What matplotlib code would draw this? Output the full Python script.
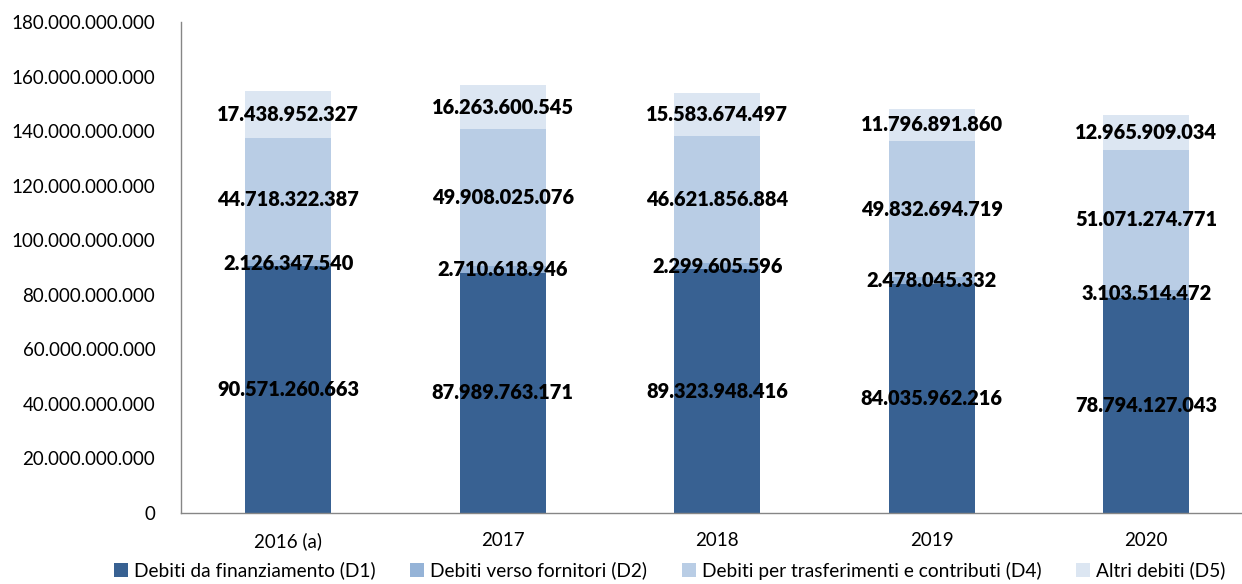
import matplotlib.pyplot as plt
import numpy as np

anni = ['2016 (a)', '2017', '2018', '2019', '2020']
d1 = [90571260663, 87989763171, 89323948416, 84035962216, 78794127043]
d2 = [2126347540, 2710618946, 2299605596, 2478045332, 3103514472]
d4 = [44718322387, 49908025076, 46621856884, 49832694719, 51071274771]
d5 = [17438952327, 16263600545, 15583674497, 11796891860, 12965909034]

serie = [
    ('Debiti da finanziamento (D1)', d1, '#386192'),
    ('Debiti verso fornitori (D2)', d2, '#95b3d7'),
    ('Debiti per trasferimenti e contributi (D4)', d4, '#b9cde5'),
    ('Altri debiti (D5)', d5, '#dce6f2'),
]

def fmt_it(v):
    return '{:,}'.format(int(v)).replace(',', '.')

plt.rcParams['font.family'] = ['Lato', 'DejaVu Sans']

fig = plt.figure(figsize=(12.42, 5.84), dpi=100)
ax = fig.add_axes([0.1457, 0.1216, 0.8543, 0.8407])

x = np.arange(len(anni))
bottom = np.zeros(len(anni))
for nome, vals, col in serie:
    vals = np.array(vals, dtype=float)
    ax.bar(x, vals, 0.4, bottom=bottom, color=col, label=nome, zorder=2)
    for xi, b, v in zip(x, bottom, vals):
        ax.text(xi, b + v / 2, fmt_it(v), ha='center', va='center',
                fontsize=14.4, fontweight='heavy', color='black', zorder=3)
    bottom += vals

ax.set_xlim(-0.5, 4.446)
ax.set_ylim(0, 180e9)
ax.set_yticks(np.arange(0, 180e9 + 1, 20e9))
ax.set_yticklabels([fmt_it(v) for v in np.arange(0, 180e9 + 1, 20e9)], fontsize=13.5)
ax.set_xticks(x)
ax.set_xticklabels(anni, fontsize=13.5)
ax.tick_params(axis='both', length=0)
ax.tick_params(axis='y', pad=18.5)
ax.tick_params(axis='x', pad=14)

for s in ['top', 'right']:
    ax.spines[s].set_visible(False)
for s in ['left', 'bottom']:
    ax.spines[s].set_color('#868686')
    ax.spines[s].set_linewidth(1)

fig.legend(loc='lower center', bbox_to_anchor=(0.539, -0.022), ncol=4, frameon=False,
           fontsize=13.8, handlelength=0.75, handleheight=0.75, handletextpad=0.3,
           columnspacing=1.8)

fig.savefig('out.png', dpi=100)
